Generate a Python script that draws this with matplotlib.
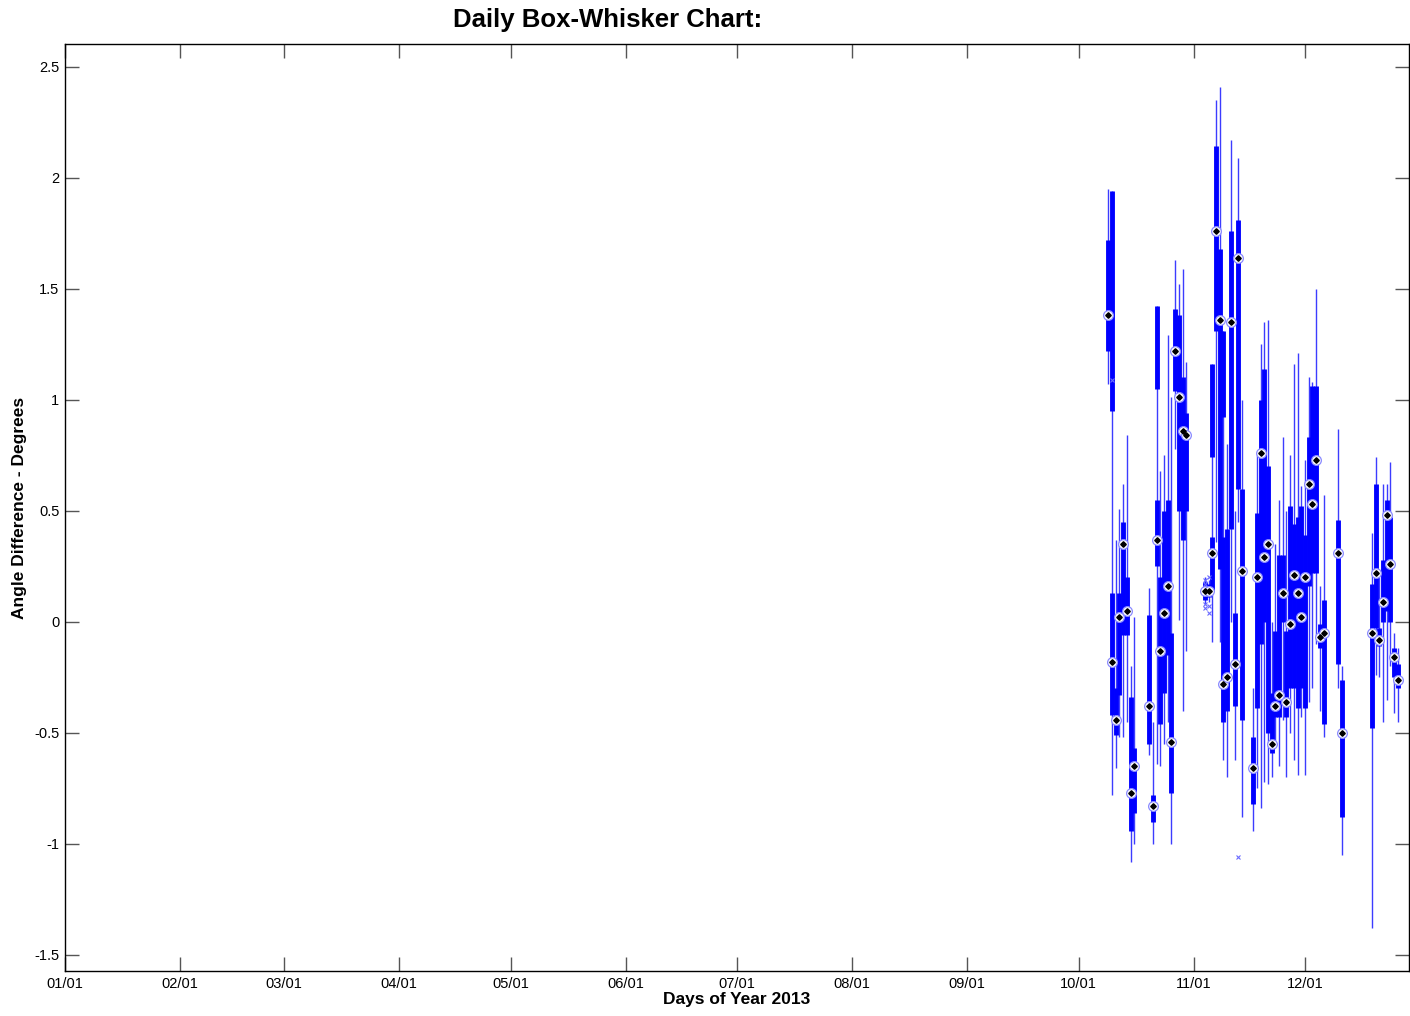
import matplotlib
matplotlib.use("Agg")
import matplotlib.pyplot as plt
import numpy as np

# day of year 2013 (Jan 1 = 0) for each daily box
days = [281, 282, 283, 284, 285, 286, 287, 288,
        292, 293, 294, 295, 296, 297, 298, 299, 300, 301, 302,
        307, 308, 309, 310, 311, 312, 313, 314, 315, 316, 317,
        320, 321, 322, 323, 324, 325, 326, 327, 328, 329,
        330, 331, 332, 333, 334, 335, 336, 337, 338, 339,
        343, 344, 352, 353, 354, 355, 356, 357, 358, 359]

whis_lo = [1.07, -0.78, -0.66, -0.52, -0.52, -0.45, -1.08, -1.00,
           -0.60, -1.00, -0.64, -0.65, -0.55, -0.45, -1.00, 0.78, 0.01, -0.40, -0.13,
           0.08, 0.09, -0.09, 0.36, -0.09, -0.62, -0.70, 0.00, -0.62, 0.45, -0.88,
           -0.94, -0.75, -0.84, -0.72, -0.73, -0.70, -0.55, -0.65, -0.44, -0.70,
           -0.50, -0.62, -0.69, -0.43, -0.69, -0.36, -0.30, -0.10, -0.40, -0.52,
           -0.30, -1.05, -1.38, -0.24, -0.25, -0.45, -0.35, -0.20, -0.41, -0.45]

q1 = [1.22, -0.42, -0.51, -0.33, -0.06, -0.06, -0.94, -0.86,
      -0.55, -0.90, 0.25, -0.46, -0.32, -0.15, -0.77, 1.04, 0.50, 0.37, 0.50,
      0.10, 0.11, 0.14, 1.31, 0.24, -0.45, -0.40, 0.42, -0.38, 0.60, -0.44,
      -0.82, -0.39, -0.10, 0.00, -0.50, -0.59, -0.43, -0.43, 0.00, -0.43,
      -0.30, -0.30, -0.39, -0.30, -0.39, 0.16, 0.22, 0.22, -0.12, -0.46,
      -0.19, -0.88, -0.48, -0.03, -0.11, 0.00, 0.05, 0.00, -0.25, -0.30]

med = [1.38, -0.18, -0.44, 0.02, 0.35, 0.05, -0.77, -0.65,
       -0.38, -0.83, 0.37, -0.13, 0.04, 0.16, -0.54, 1.22, 1.01, 0.86, 0.84,
       0.14, 0.14, 0.31, 1.76, 1.36, -0.28, -0.25, 1.35, -0.19, 1.64, 0.23,
       -0.66, 0.20, 0.76, 0.29, 0.35, -0.55, -0.38, -0.33, 0.13, -0.36,
       -0.01, 0.21, 0.13, 0.02, 0.20, 0.62, 0.53, 0.73, -0.07, -0.05,
       0.31, -0.50, -0.05, 0.22, -0.08, 0.09, 0.48, 0.26, -0.16, -0.26]

q3 = [1.72, 0.13, -0.30, 0.13, 0.45, 0.20, -0.34, -0.57,
      0.03, -0.78, 0.55, 0.20, 0.50, 0.55, -0.05, 1.41, 1.38, 1.10, 0.94,
      0.18, 0.17, 0.38, 2.14, 1.68, 0.38, 0.42, 1.76, 0.04, 1.81, 0.60,
      -0.52, 0.49, 1.00, 1.14, 0.70, -0.32, -0.04, 0.30, 0.30, -0.04,
      0.52, 0.44, 0.47, 0.52, 0.39, 0.83, 1.06, 1.06, -0.01, 0.10,
      0.46, -0.26, 0.17, 0.62, -0.03, 0.28, 0.55, 0.47, -0.12, -0.19]

whis_hi = [1.95, 1.94, 0.37, 0.51, 0.62, 0.84, -0.20, 0.02,
           0.15, -0.45, 1.42, 0.68, 0.75, 1.29, 1.01, 1.63, 1.52, 1.59, 1.17,
           0.20, 0.19, 1.16, 2.35, 2.41, 1.31, 0.80, 2.17, 0.50, 2.09, 1.00,
           -0.30, 0.75, 1.25, 1.35, 1.36, 0.00, 0.35, 0.55, 0.83, 0.50,
           0.75, 1.16, 1.21, 0.61, 0.73, 1.10, 1.08, 1.50, 0.16, 0.57,
           0.87, -0.20, 0.40, 0.74, 0.20, 0.62, 0.62, 0.72, -0.05, -0.12]

# extra thick segments drawn without a median marker
seg_days = [282, 294, 309, 312]
seg_lo = [0.95, 1.05, 0.74, 0.92]
seg_hi = [1.94, 1.42, 1.16, 1.31]

# outliers
out_days = [282, 307, 307, 307, 307, 308, 308, 308, 316]
out_vals = [1.09, 0.19, 0.17, 0.08, 0.06, 0.20, 0.07, 0.04, -1.06]

month_days = [0, 31, 59, 90, 120, 151, 181, 212, 243, 273, 304, 334]
month_labels = ["01/01", "02/01", "03/01", "04/01", "05/01", "06/01",
                "07/01", "08/01", "09/01", "10/01", "11/01", "12/01"]
y_ticks = [-1.5, -1, -0.5, 0, 0.5, 1, 1.5, 2, 2.5]
y_labels = ["-1.5", "-1", "-0.5", "0", "0.5", "1", "1.5", "2", "2.5"]

plt.rcParams["font.family"] = ["Liberation Sans", "DejaVu Sans"]

fig = plt.figure(figsize=(14.1, 10.16), dpi=100)
ax = fig.add_axes([0.0461, 0.0443, 0.9532, 0.9121])

ax.vlines(days, whis_lo, whis_hi, color="#3c3cff", lw=1.0, zorder=2)
ax.vlines(days, q1, q3, color="#0000ff", lw=3.5, zorder=3)
ax.vlines(seg_days, seg_lo, seg_hi, color="#0000ff", lw=3.5, zorder=3)
ax.plot(out_days, out_vals, "x", color="#6a6aff", ms=3, mew=0.8, zorder=3)
ax.plot(days, med, "o", mfc="white", mec="#8a8aff", ms=7, mew=0.9, zorder=4)
ax.plot(days, med, "D", color="black", ms=2.8, zorder=5)

ax.set_xlim(0, 362)
ax.set_ylim(-1.572, 2.60)
ax.set_xticks(month_days)
ax.set_xticklabels(month_labels)
ax.set_yticks(y_ticks)
ax.set_yticklabels(y_labels)
ax.tick_params(direction="in", length=10, width=1, colors="#555555",
               labelcolor="black", labelsize=10.5, top=True, right=True, pad=4)

for side in ax.spines.values():
    side.set_color("black")
    side.set_linewidth(1.0)

ax.set_xlabel("Days of Year 2013", fontsize=12.5, fontweight="bold", labelpad=1)
ax.set_ylabel("Angle Difference - Degrees", fontsize=12.5, fontweight="bold", labelpad=5)
fig.text(0.431, 0.980, "Daily Box-Whisker Chart:", ha="center", va="center",
         fontsize=18.5, fontweight="bold")

fig.savefig("out.png", dpi=100)
